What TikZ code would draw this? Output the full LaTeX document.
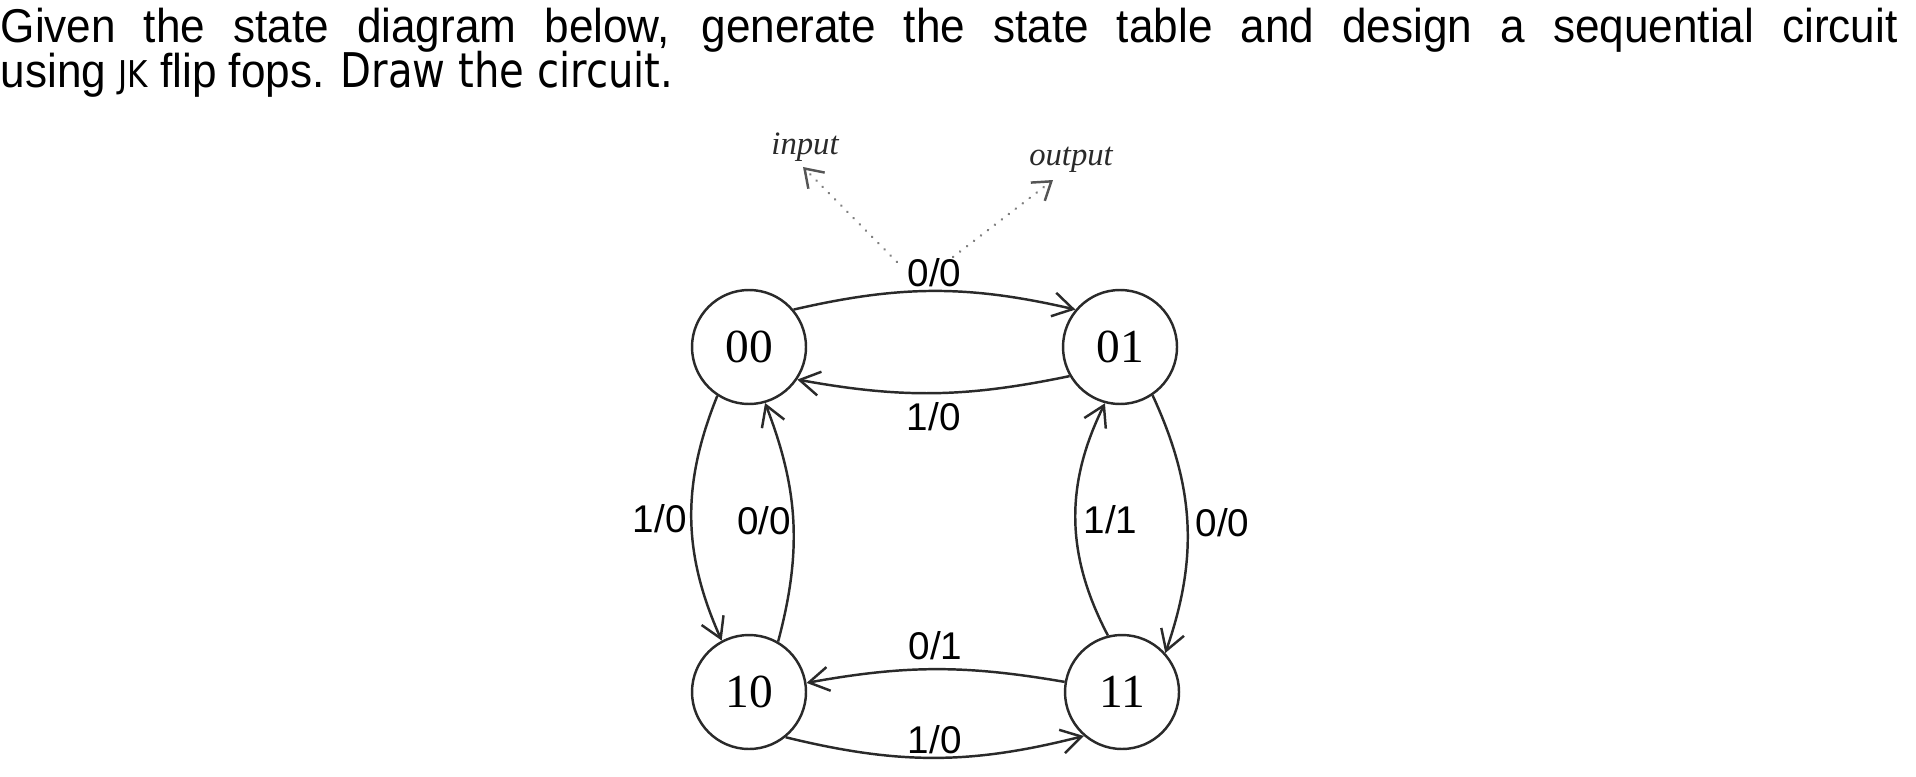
\documentclass[tikz,border=0pt]{standalone}
\usepackage{fontspec}
\setmainfont{Liberation Serif}
\newfontfamily\sansFont[FakeStretch=0.93]{Liberation Sans}
\newfontfamily\labelSans{Liberation Sans}
\newfontfamily\plainFont[FakeStretch=0.84]{DejaVu Sans}
\usetikzlibrary{arrows.meta}
\definecolor{edgeGray}{HTML}{2A2A2A}
\definecolor{hintGray}{HTML}{808080}
\newcommand{\stateNode}[3]{%%
  \node[stateStyle] (#1) at (#2) {#3};
}
\newcommand{\hintArrow}[4]{%%
  %% A dotted pointer with its caption.
  \draw[hintStyle] (#1) -- (#2);
  \node[hintText] (#2Text) at (#3) {#4};
}

\begin{document}
\begin{tikzpicture}[%%
  x=0.1mm,y=-0.1mm,%%
  stateStyle/.style={draw=edgeGray,circle,minimum size=11.4mm,inner sep=0pt,line width=0.7pt,font=\fontsize{13.5}{14}\selectfont},%%
  edgeStyle/.style={-{Straight Barb[length=2mm,width=2.4mm]},line width=0.7pt,draw=edgeGray},%%
  labelStyle/.style={font=\labelSans\fontsize{11}{12}\selectfont,inner sep=1pt},%%
  hintStyle/.style={-{Straight Barb[length=1.7mm,width=2.3mm,color=edgeGray!80]},draw=hintGray,line width=0.7pt,dash pattern=on 0.1pt off 2.4pt,line cap=round},%%
  hintText/.style={font=\itshape\fontsize{9.3}{10}\selectfont,anchor=base,text=edgeGray},%%
  titleStyle/.style={anchor=base west,inner sep=0pt,font=\sansFont\fontsize{13.5}{14}\selectfont}%%
]
\useasboundingbox (0,0) rectangle (1916,776);
%%
%% The question.
\node[titleStyle] (lineOne) at (0,43) {\hbox to 18.97cm{Given the state diagram below, generate the state table and design a sequential circuit}};
\node[titleStyle] (lineTwo) at (0,88) {using {\plainFont\fontsize{10.5}{12}\selectfont JK} flip fops. {\plainFont\fontsize{13.6}{14}\selectfont Draw the circuit.}};
%%
%% The states.
\stateNode{s00}{749,347}{00}
\stateNode{s01}{1120,347}{01}
\stateNode{s10}{749,692}{10}
\stateNode{s11}{1122,692}{11}
%%
%% Input and output hints.
\coordinate (inputFoot) at (897,262);
\coordinate (input) at (803,167);
\coordinate (outputFoot) at (953,257);
\coordinate (output) at (1053,180);
\hintArrow{inputFoot}{input}{805,155}{input}
\hintArrow{outputFoot}{output}{1071,165}{output}
%%
%% Top pair.
\draw[edgeStyle] (s00.40) to[bend left=13] node[labelStyle,anchor=base,yshift=0.5mm] (topOut) {0/0} (s01.140);
\draw[edgeStyle] (s01.210) to[bend left=11] node[labelStyle,anchor=base,yshift=-3.7mm] (topBack) {1/0} (s00.326);
%% Left pair.
\draw[edgeStyle] (s00.237) to[bend right=23] node[labelStyle,anchor=east] (leftDown) {1/0} (s10.118);
\draw[edgeStyle] (s10.60) to[bend right=18] node[labelStyle,anchor=east,inner sep=0.3pt] (leftUp) {0/0} (s00.286);
%% Right pair.
\draw[edgeStyle] (s11.104) to[bend left=27] node[labelStyle,anchor=west,inner sep=2pt] (rightUp) {1/1} (s01.255);
\draw[edgeStyle] (s01.304) to[bend left=22] node[labelStyle,anchor=west,inner sep=2pt] (rightDown) {0/0} (s11.42);
%% Bottom pair.
\draw[edgeStyle] (s11.170) to[bend right=10] node[labelStyle,anchor=base,yshift=1mm] (bottomBack) {0/1} (s10.9);
\draw[edgeStyle] (s10.309) to[bend right=14] node[labelStyle,anchor=base,yshift=0.4mm] (bottomOut) {1/0} (s11.229);
\end{tikzpicture}
\end{document}
